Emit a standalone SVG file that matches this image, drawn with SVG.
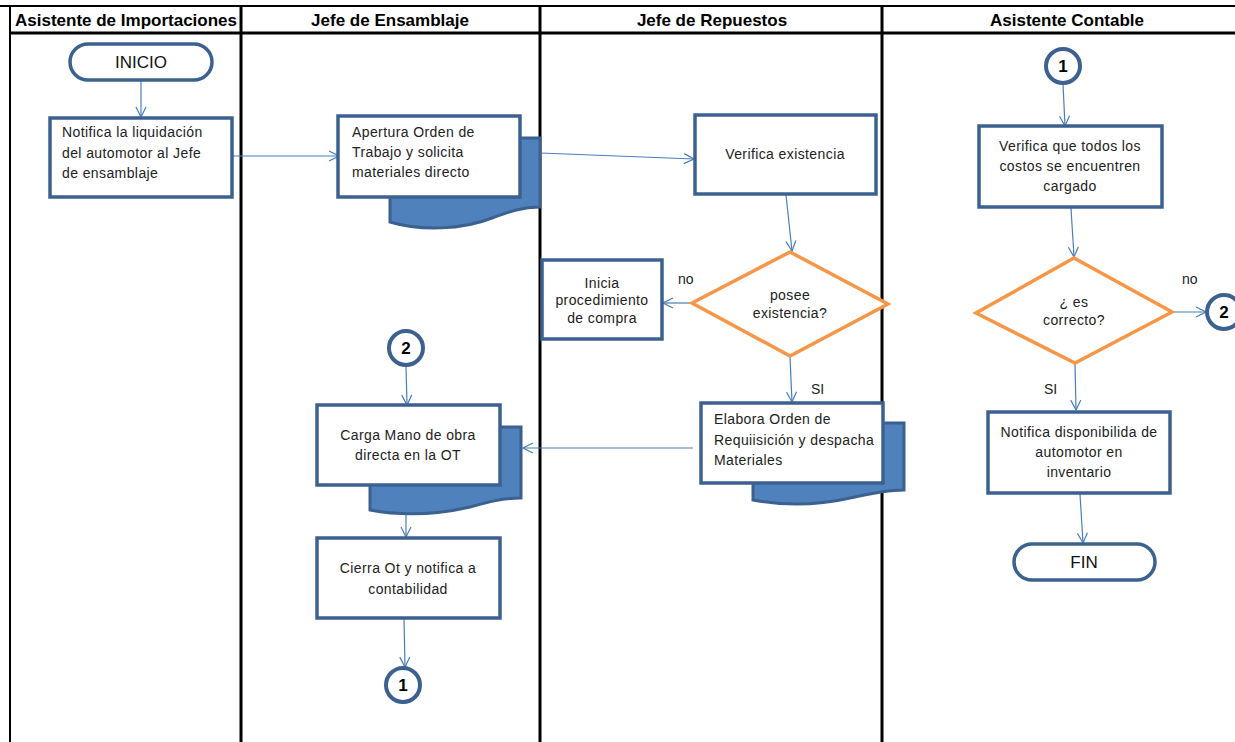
<svg xmlns="http://www.w3.org/2000/svg" width="1235" height="742" viewBox="0 0 1235 742">
  <style>
    .grid { stroke: #000; fill: none; }
    .hdr { font-family: "Liberation Sans", Arial, sans-serif; font-size: 17px; font-weight: bold; fill: #000; text-anchor: middle; }
    .box { fill: #fff; stroke: #3C6190; stroke-width: 3.5; }
    .shadow { fill: #4F81BD; stroke: #3C6190; stroke-width: 3; }
    .dec { fill: #fff; stroke: #F79646; stroke-width: 3.5; }
    .con { fill: #fff; stroke: #3C6190; stroke-width: 4; }
    .t { font-family: "Liberation Sans", Arial, sans-serif; font-size: 14px; letter-spacing: 0.4px; fill: #222; }
    .c { text-anchor: middle; }
    .term { font-family: "Liberation Sans", Arial, sans-serif; font-size: 17px; fill: #111; text-anchor: middle; }
    .num { font-family: "Liberation Sans", Arial, sans-serif; font-size: 17px; font-weight: bold; fill: #000; text-anchor: middle; }
    .lbl { font-family: "Liberation Sans", Arial, sans-serif; font-size: 14px; fill: #222; }
    .arr { stroke: #4A7EBB; stroke-width: 1.2; fill: none; marker-end: url(#open); }
  </style>
  <defs>
    <marker id="open" viewBox="0 0 12 12" refX="11" refY="6" markerWidth="12" markerHeight="12" markerUnits="userSpaceOnUse" orient="auto">
      <path d="M1,1 L11,6 L1,11" fill="none" stroke="#4A7EBB" stroke-width="1.2"/>
    </marker>
  </defs>

  <rect width="1235" height="742" fill="#fff"/>

  <!-- swimlane grid -->
  <g id="lanes">
    <line class="grid" x1="0" y1="6" x2="1235" y2="6" stroke-width="2"/>
    <line class="grid" x1="10" y1="33" x2="1235" y2="33" stroke-width="3"/>
    <line class="grid" x1="10" y1="5" x2="10" y2="742" stroke-width="2"/>
    <line class="grid" x1="241" y1="5" x2="241" y2="742" stroke-width="3"/>
    <line class="grid" x1="540" y1="5" x2="540" y2="742" stroke-width="3"/>
    <line class="grid" x1="882" y1="5" x2="882" y2="742" stroke-width="3"/>
    <text class="hdr" x="126" y="26">Asistente de Importaciones</text>
    <text class="hdr" x="390" y="26">Jefe de Ensamblaje</text>
    <text class="hdr" x="712" y="26">Jefe de Repuestos</text>
    <text class="hdr" x="1067" y="26">Asistente Contable</text>
  </g>

  <!-- connectors -->
  <g id="connectors">
    <line class="arr" x1="141" y1="81" x2="141" y2="117"/>
    <line class="arr" x1="232" y1="156" x2="339" y2="156"/>
    <line class="arr" x1="540" y1="153" x2="694" y2="159"/>
    <line class="arr" x1="786" y1="195" x2="792" y2="251"/>
    <line class="arr" x1="692" y1="303" x2="663" y2="303"/>
    <line class="arr" x1="790" y1="357" x2="792" y2="402"/>
    <line class="arr" x1="693" y1="448" x2="523" y2="448"/>
    <line class="arr" x1="406" y1="366" x2="407" y2="405"/>
    <line class="arr" x1="406" y1="486" x2="406" y2="537"/>
    <line class="arr" x1="404" y1="619" x2="405" y2="667"/>
    <line class="arr" x1="1063" y1="84" x2="1065" y2="126"/>
    <line class="arr" x1="1071" y1="208" x2="1074" y2="257"/>
    <line class="arr" x1="1172" y1="312" x2="1206" y2="312"/>
    <line class="arr" x1="1075" y1="363" x2="1076" y2="410"/>
    <line class="arr" x1="1080" y1="494" x2="1083" y2="543"/>
    <text class="lbl" x="678" y="284">no</text>
    <text class="lbl" x="811" y="394">SI</text>
    <text class="lbl" x="1182" y="284">no</text>
    <text class="lbl" x="1044" y="394">SI</text>
  </g>

  <g id="inicio">
    <rect class="box" x="70" y="44" width="142" height="36" rx="18"/>
    <text class="term" x="141" y="68">INICIO</text>
  </g>

  <g id="notifica-liquidacion">
    <rect class="box" x="50" y="118" width="182" height="79"/>
    <text class="t" x="62" y="137">Notifica la liquidación</text>
    <text class="t" x="62" y="158">del automotor al Jefe</text>
    <text class="t" x="62" y="178">de ensamblaje</text>
  </g>

  <g id="apertura-orden">
    <path class="shadow" d="M390,138 L540,138 L540,207 C522,207 508,212 492,218 C462,230 420,231 390,222 Z"/>
    <rect class="box" x="338" y="116" width="182" height="81"/>
    <text class="t" x="352" y="137">Apertura Orden de</text>
    <text class="t" x="352" y="157">Trabajo y solicita</text>
    <text class="t" x="352" y="177">materiales directo</text>
  </g>

  <g id="verifica-existencia">
    <rect class="box" x="695" y="115" width="181" height="79"/>
    <text class="t c" x="785" y="159">Verifica existencia</text>
  </g>

  <g id="posee-existencia">
    <polygon class="dec" points="790,252 888,304 790,356 692,303"/>
    <text class="t c" x="790" y="300">posee</text>
    <text class="t c" x="790" y="318">existencia?</text>
  </g>

  <g id="inicia-compra">
    <rect class="box" x="542" y="260" width="120" height="79"/>
    <text class="t c" x="602" y="288">Inicia</text>
    <text class="t c" x="602" y="305">procedimiento</text>
    <text class="t c" x="602" y="323">de compra</text>
  </g>

  <g id="elabora-requisicion">
    <path class="shadow" d="M753,423 L904,423 L904,490 C885,490 868,494 850,498 C815,506 785,506 753,500 Z"/>
    <rect class="box" x="701" y="403" width="182" height="80"/>
    <text class="t" x="714" y="424">Elabora Orden de</text>
    <text class="t" x="714" y="445">Requiisición y despacha</text>
    <text class="t" x="714" y="465">Materiales</text>
  </g>

  <g id="conector-2-ensamblaje">
    <circle class="con" cx="406" cy="348" r="17"/>
    <text class="num" x="406" y="354">2</text>
  </g>

  <g id="carga-mano-obra">
    <path class="shadow" d="M370,427 L521,427 L521,498 C503,498 488,502 470,507 C435,515 402,516 370,510 Z"/>
    <rect class="box" x="317" y="405" width="183" height="80"/>
    <text class="t c" x="408" y="440">Carga Mano de obra</text>
    <text class="t c" x="408" y="460">directa en la OT</text>
  </g>

  <g id="cierra-ot">
    <rect class="box" x="317" y="538" width="183" height="80"/>
    <text class="t c" x="408" y="573">Cierra Ot y notifica a</text>
    <text class="t c" x="408" y="594">contabilidad</text>
  </g>

  <g id="conector-1-ensamblaje">
    <circle class="con" cx="403" cy="685" r="17"/>
    <text class="num" x="403" y="691">1</text>
  </g>

  <g id="conector-1-contable">
    <circle class="con" cx="1063" cy="66" r="17"/>
    <text class="num" x="1063" y="72">1</text>
  </g>

  <g id="verifica-costos">
    <rect class="box" x="979" y="126" width="183" height="81"/>
    <text class="t c" x="1070" y="151">Verifica que todos los</text>
    <text class="t c" x="1070" y="171">costos se encuentren</text>
    <text class="t c" x="1070" y="191">cargado</text>
  </g>

  <g id="es-correcto">
    <polygon class="dec" points="1074,258 1172,312 1075,363 976,313"/>
    <text class="t c" x="1074" y="307">¿ es</text>
    <text class="t c" x="1074" y="325">correcto?</text>
  </g>

  <g id="conector-2-contable">
    <circle class="con" cx="1224" cy="312" r="17"/>
    <text class="num" x="1224" y="318">2</text>
  </g>

  <g id="notifica-disponibilidad">
    <rect class="box" x="988" y="412" width="182" height="81"/>
    <text class="t c" x="1079" y="437">Notifica disponibilida de</text>
    <text class="t c" x="1079" y="457">automotor en</text>
    <text class="t c" x="1079" y="477">inventario</text>
  </g>

  <g id="fin">
    <rect class="box" x="1014" y="544" width="141" height="36" rx="18"/>
    <text class="term" x="1084" y="568">FIN</text>
  </g>
</svg>
